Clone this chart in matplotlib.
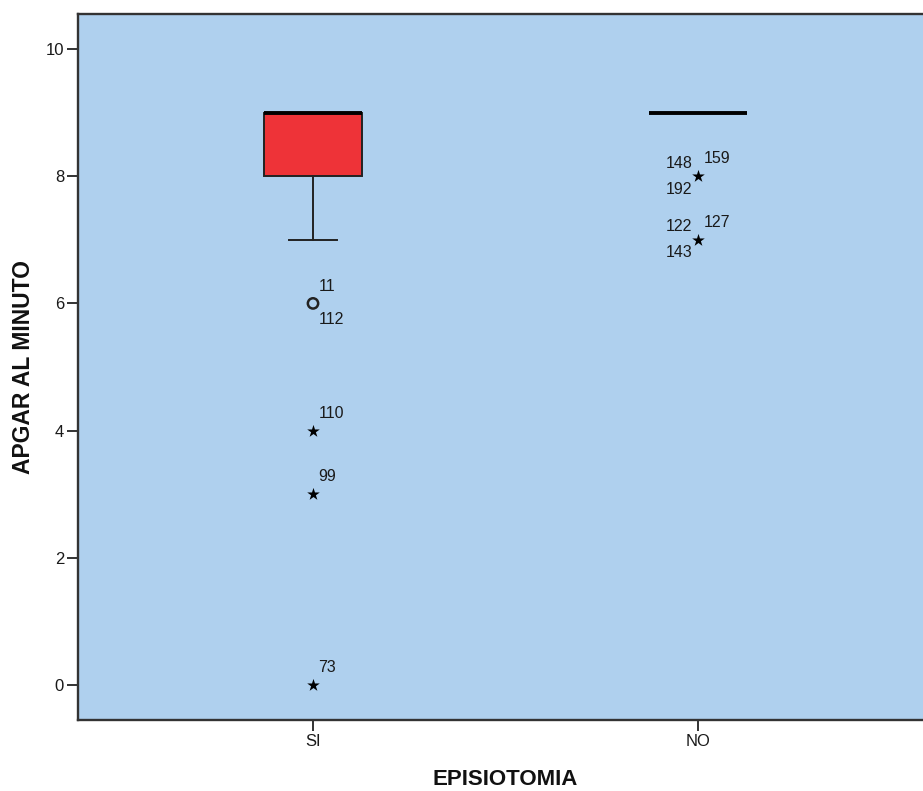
import matplotlib
matplotlib.use("Agg")
import matplotlib.pyplot as plt

# datos del diagrama de caja (SPSS)
categories = ['SI', 'NO']
q1 = [8, 9]
median = [9, 9]
q3 = [9, 9]
whislo = [7, 9]
whishi = [9, 9]

# atipicos
circle_x = [0]
circle_y = [6]
star_x = [0, 0, 0, 1, 1]
star_y = [4, 3, 0, 8, 7]

# etiquetas de casos: grupo, valor, texto, posicion
case_group = [0, 0, 0, 0, 0, 1, 1, 1, 1, 1, 1]
case_value = [6, 6, 4, 3, 0, 8, 8, 8, 7, 7, 7]
case_text = ['11', '112', '110', '99', '73', '148', '159', '192', '122', '127', '143']
case_pos = ['ur', 'lr', 'ur', 'ur', 'ur', 'ul', 'ur', 'll', 'ul', 'ur', 'll']

bg = '#AFD0EE'
red = '#EE3338'
edge = '#222222'

plt.rcParams['font.family'] = ['Liberation Sans', 'DejaVu Sans']

fig = plt.figure(figsize=(9.23, 7.91), dpi=100)
ax = fig.add_axes([78 / 923, 71 / 791, 855 / 923, 706 / 791])
ax.set_facecolor(bg)

stats = []
for i in range(len(categories)):
    stats.append({'med': median[i], 'q1': q1[i], 'q3': q3[i],
                  'whislo': whislo[i], 'whishi': whishi[i], 'fliers': []})

pos = list(range(len(categories)))
ax.bxp(stats, positions=pos, widths=0.255, patch_artist=True, showfliers=False,
       boxprops=dict(facecolor=red, edgecolor=edge, linewidth=1.4),
       medianprops=dict(color='black', linewidth=2.8),
       whiskerprops=dict(color=edge, linewidth=1.4),
       capprops=dict(color=edge, linewidth=1.4), capwidths=0.125)

ax.scatter(circle_x, circle_y, s=55, facecolors='none', edgecolors=edge, linewidths=1.8, zorder=3)
ax.scatter(star_x, star_y, s=90, marker='*', color='black', linewidths=0, zorder=3)

# desplazamientos en puntos
offsets = {'ur': (4, 7, 'left', 'bottom'), 'lr': (4, -6, 'left', 'top'),
           'ul': (-4, 4, 'right', 'bottom'), 'll': (-4, -4, 'right', 'top')}
for g, v, t, p in zip(case_group, case_value, case_text, case_pos):
    dx, dy, ha, va = offsets[p]
    ax.annotate(t, (g, v), xytext=(dx, dy), textcoords='offset points',
                ha=ha, va=va, fontsize=11.5, color='#1a1a1a')

ax.set_xlim(-235 / 385, 1 + 235 / 385)
ax.set_ylim(-0.55, 10.55)
ax.set_xticks(pos)
ax.set_xticklabels(categories)
ax.set_yticks([0, 2, 4, 6, 8, 10])
ax.tick_params(axis='both', direction='out', length=8, width=1.3, color=edge,
               labelsize=12, pad=2, labelcolor='#1a1a1a')
for s in ax.spines.values():
    s.set_color('#333333')
    s.set_linewidth(1.7)

ax.set_ylabel('APGAR AL MINUTO', fontsize=16.5, fontweight='bold', color='#111111')
ax.set_xlabel('EPISIOTOMIA', fontsize=16, fontweight='bold', color='#111111')
ax.yaxis.set_label_coords(-0.05, 0.5)
ax.xaxis.set_label_coords(0.5, -0.07)

fig.savefig('out.png', dpi=100, facecolor='white')
